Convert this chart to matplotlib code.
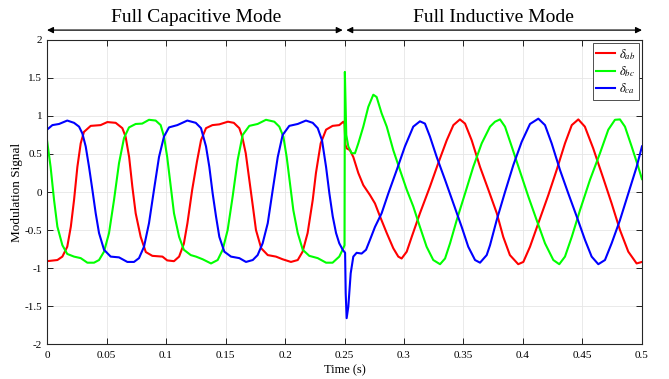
import matplotlib
matplotlib.use("Agg")
import matplotlib.pyplot as plt

plt.rcParams['font.family'] = ['Liberation Serif', 'DejaVu Serif']
plt.rcParams['mathtext.fontset'] = 'stix'

# delta_ab
t_ab = [0.000, 0.0087, 0.0129, 0.017, 0.020, 0.0227, 0.0255, 0.0283, 0.031, 0.0367,
        0.045, 0.0507, 0.0577, 0.0633, 0.066, 0.069, 0.0717, 0.0745, 0.0787, 0.083,
        0.0885, 0.097, 0.101, 0.1067, 0.111, 0.115, 0.118, 0.122, 0.126, 0.1294,
        0.1336, 0.139, 0.1448, 0.152, 0.157, 0.1616, 0.164, 0.167, 0.170, 0.173,
        0.1756, 0.180, 0.1855, 0.1924, 0.198, 0.205, 0.2107, 0.2148, 0.219, 0.2233,
        0.226, 0.230, 0.2345, 0.240, 0.2456, 0.249, 0.2500, 0.2508, 0.2518, 0.2546,
        0.2574, 0.2616, 0.2658, 0.2714, 0.2756, 0.2798, 0.2855, 0.291, 0.2952, 0.298,
        0.3023, 0.3065, 0.3134, 0.3218, 0.3288, 0.3359, 0.3415, 0.347, 0.3513, 0.3569,
        0.3639, 0.3709, 0.378, 0.3834, 0.389, 0.396, 0.4003, 0.4059, 0.4129, 0.4213,
        0.4283, 0.4353, 0.441, 0.4465, 0.452, 0.459, 0.4675, 0.4745, 0.4815, 0.4885,
        0.4955, 0.500]
v_ab = [-0.91, -0.895, -0.85, -0.72, -0.456, -0.105, 0.33, 0.64, 0.79, 0.87,
        0.88, 0.92, 0.91, 0.84, 0.73, 0.46, 0.07, -0.28, -0.59, -0.79,
        -0.84, -0.85, -0.90, -0.91, -0.85, -0.68, -0.41, 0.03, 0.40, 0.68,
        0.84, 0.88, 0.89, 0.925, 0.91, 0.84, 0.73, 0.51, 0.16, -0.19,
        -0.50, -0.74, -0.83, -0.85, -0.885, -0.92, -0.895, -0.785, -0.54, -0.105,
        0.25, 0.64, 0.82, 0.87, 0.88, 0.925, 0.90, 0.62, 0.575, 0.55,
        0.46, 0.25, 0.09, -0.04, -0.15, -0.32, -0.54, -0.74, -0.85, -0.875,
        -0.785, -0.59, -0.28, 0.07, 0.38, 0.68, 0.88, 0.955, 0.90, 0.68,
        0.33, 0.03, -0.28, -0.59, -0.83, -0.95, -0.92, -0.72, -0.41, -0.04,
        0.29, 0.64, 0.88, 0.955, 0.86, 0.575, 0.18, -0.15, -0.50, -0.785,
        -0.94, -0.92]

# delta_bc
t_bc = [0.000, 0.003, 0.0059, 0.0087, 0.0129, 0.017, 0.0227, 0.0283, 0.0339, 0.0395,
        0.0437, 0.0479, 0.0521, 0.0563, 0.0605, 0.0647, 0.0689, 0.0745, 0.080, 0.0857,
        0.0913, 0.0955, 0.0983, 0.101, 0.104, 0.1067, 0.111, 0.115, 0.1208, 0.1252,
        0.1308, 0.1378, 0.1434, 0.1476, 0.1518, 0.156, 0.1602, 0.1644, 0.170, 0.177,
        0.184, 0.191, 0.1952, 0.1986, 0.2014, 0.2042, 0.207, 0.2107, 0.2149, 0.2204,
        0.2275, 0.2345, 0.240, 0.2456, 0.249, 0.2500, 0.2503, 0.2515, 0.2532, 0.256,
        0.2588, 0.2616, 0.2658, 0.270, 0.2742, 0.277, 0.2812, 0.2855, 0.291, 0.2966,
        0.3023, 0.3078, 0.3134, 0.319, 0.3246, 0.3303, 0.3345, 0.3387, 0.3443, 0.3513,
        0.3582, 0.3653, 0.3723, 0.3765, 0.3807, 0.3849, 0.3905, 0.3975, 0.4045, 0.4115,
        0.4185, 0.4255, 0.4305, 0.4353, 0.441, 0.4479, 0.4563, 0.4647, 0.4717, 0.4773,
        0.4815, 0.4857, 0.4913, 0.4969, 0.500]
v_bc = [0.68, 0.33, -0.105, -0.456, -0.70, -0.815, -0.85, -0.87, -0.93, -0.93,
        -0.895, -0.785, -0.54, -0.105, 0.38, 0.71, 0.85, 0.895, 0.90, 0.95,
        0.94, 0.88, 0.73, 0.46, 0.07, -0.28, -0.59, -0.76, -0.83, -0.85,
        -0.885, -0.94, -0.895, -0.76, -0.50, -0.06, 0.42, 0.75, 0.87, 0.895,
        0.95, 0.925, 0.86, 0.73, 0.46, 0.11, -0.24, -0.54, -0.76, -0.84,
        -0.87, -0.93, -0.93, -0.85, -0.74, -0.70, 1.58, 0.75, 0.60, 0.51,
        0.51, 0.64, 0.86, 1.12, 1.28, 1.25, 1.035, 0.86, 0.55, 0.29,
        0.03, -0.19, -0.46, -0.72, -0.895, -0.95, -0.875, -0.675, -0.37, -0.02,
        0.33, 0.64, 0.86, 0.925, 0.955, 0.86, 0.60, 0.27, -0.06, -0.37,
        -0.675, -0.895, -0.95, -0.85, -0.59, -0.24, 0.16, 0.51, 0.82, 0.95,
        0.955, 0.86, 0.60, 0.33, 0.17]

# delta_ca
t_ca = [0.000, 0.0045, 0.0101, 0.017, 0.0227, 0.0269, 0.0297, 0.0325, 0.0353, 0.0381,
        0.0409, 0.0437, 0.0479, 0.0535, 0.0605, 0.0675, 0.0731, 0.0773, 0.0815, 0.0857,
        0.0899, 0.0941, 0.0983, 0.1025, 0.1095, 0.1179, 0.125, 0.1294, 0.1336, 0.1364,
        0.1392, 0.142, 0.1448, 0.149, 0.1546, 0.1616, 0.1672, 0.1729, 0.177, 0.1812,
        0.1855, 0.1897, 0.1939, 0.198, 0.2036, 0.2107, 0.2176, 0.2233, 0.2275, 0.2311,
        0.2345, 0.2373, 0.2401, 0.2429, 0.2456, 0.2485, 0.2505, 0.2510, 0.2518, 0.2532,
        0.2552, 0.2574, 0.2602, 0.2644, 0.2681, 0.2714, 0.2756, 0.2812, 0.2868, 0.2939,
        0.3008, 0.3078, 0.3134, 0.3176, 0.3218, 0.3275, 0.3345, 0.3415, 0.3485, 0.354,
        0.3597, 0.3639, 0.3695, 0.3723, 0.3779, 0.3849, 0.3919, 0.3989, 0.4059, 0.4129,
        0.4185, 0.4241, 0.4311, 0.4381, 0.4451, 0.4521, 0.4577, 0.4633, 0.4689, 0.4745,
        0.4815, 0.4885, 0.4955, 0.500]
v_ca = [0.82, 0.88, 0.895, 0.94, 0.91, 0.86, 0.77, 0.60, 0.33, 0.03,
        -0.28, -0.54, -0.76, -0.85, -0.86, -0.92, -0.92, -0.87, -0.72, -0.41,
        0.03, 0.46, 0.73, 0.85, 0.88, 0.94, 0.91, 0.84, 0.60, 0.33,
        -0.02, -0.32, -0.59, -0.785, -0.85, -0.87, -0.92, -0.895, -0.83, -0.675,
        -0.41, 0.03, 0.46, 0.75, 0.87, 0.895, 0.94, 0.91, 0.84, 0.68,
        0.33, -0.02, -0.32, -0.54, -0.675, -0.76, -0.80, -1.33, -1.66, -1.51,
        -1.07, -0.85, -0.80, -0.81, -0.76, -0.63, -0.46, -0.28, -0.02, 0.29,
        0.60, 0.86, 0.93, 0.90, 0.73, 0.46, 0.16, -0.15, -0.46, -0.72,
        -0.895, -0.93, -0.83, -0.70, -0.37, 0.0, 0.355, 0.66, 0.895, 0.965,
        0.88, 0.64, 0.29, -0.02, -0.32, -0.63, -0.85, -0.95, -0.895, -0.675,
        -0.37, -0.02, 0.33, 0.60]

fig = plt.figure(figsize=(6.69, 3.79), dpi=100)
ax = fig.add_axes([0.0703, 0.0923, 0.8893, 0.8022])

ax.plot(t_ab, v_ab, color='#ff0000', lw=1.5, label=r'$\delta_{ab}$')
ax.plot(t_bc, v_bc, color='#00ff00', lw=1.5, label=r'$\delta_{bc}$')
ax.plot(t_ca, v_ca, color='#0000ff', lw=1.5, label=r'$\delta_{ca}$')

ax.set_xlim(0, 0.5)
ax.set_ylim(-2, 2)
ax.set_xticks([0, 0.05, 0.1, 0.15, 0.2, 0.25, 0.3, 0.35, 0.4, 0.45, 0.5])
ax.set_xticklabels(['0', '0.05', '0.1', '0.15', '0.2', '0.25', '0.3', '0.35', '0.4', '0.45', '0.5'])
ax.set_yticks([-2, -1.5, -1, -0.5, 0, 0.5, 1, 1.5, 2])
ax.set_yticklabels(['-2', '-1.5', '-1', '-0.5', '0', '0.5', '1', '1.5', '2'])
ax.tick_params(direction='in', top=True, right=True, labelsize=8, length=4, width=0.6)
ax.tick_params(axis='x', pad=5)
ax.grid(True, color='#e6e6e6', lw=0.6)
for s in ax.spines.values():
    s.set_linewidth(0.8)
    s.set_color('#262626')

ax.set_xlabel('Time (s)', fontsize=9, labelpad=3)
ax.set_ylabel('Modulation Signal', fontsize=9.5, labelpad=1)

leg = ax.legend(loc='upper right', bbox_to_anchor=(0.995, 0.99), fontsize=9,
                fancybox=False, framealpha=1, edgecolor='#333333', handlelength=1.5,
                handletextpad=0.3, borderpad=0.3, labelspacing=0.2, borderaxespad=0)
leg.get_frame().set_linewidth(0.6)

# mode annotations above the axes
ax.annotate('', xy=(0.0, 2.13), xytext=(0.2485, 2.13), annotation_clip=False,
            arrowprops=dict(arrowstyle='<|-|>', color='black', lw=0.9,
                            mutation_scale=9, shrinkA=0, shrinkB=0))
ax.annotate('', xy=(0.2515, 2.13), xytext=(0.5, 2.13), annotation_clip=False,
            arrowprops=dict(arrowstyle='<|-|>', color='black', lw=0.9,
                            mutation_scale=9, shrinkA=0, shrinkB=0))
ax.text(0.125, 2.30, 'Full Capacitive Mode', ha='center', va='center', fontsize=14)
ax.text(0.375, 2.30, 'Full Inductive Mode', ha='center', va='center', fontsize=14)

fig.savefig('out.png', dpi=100)
